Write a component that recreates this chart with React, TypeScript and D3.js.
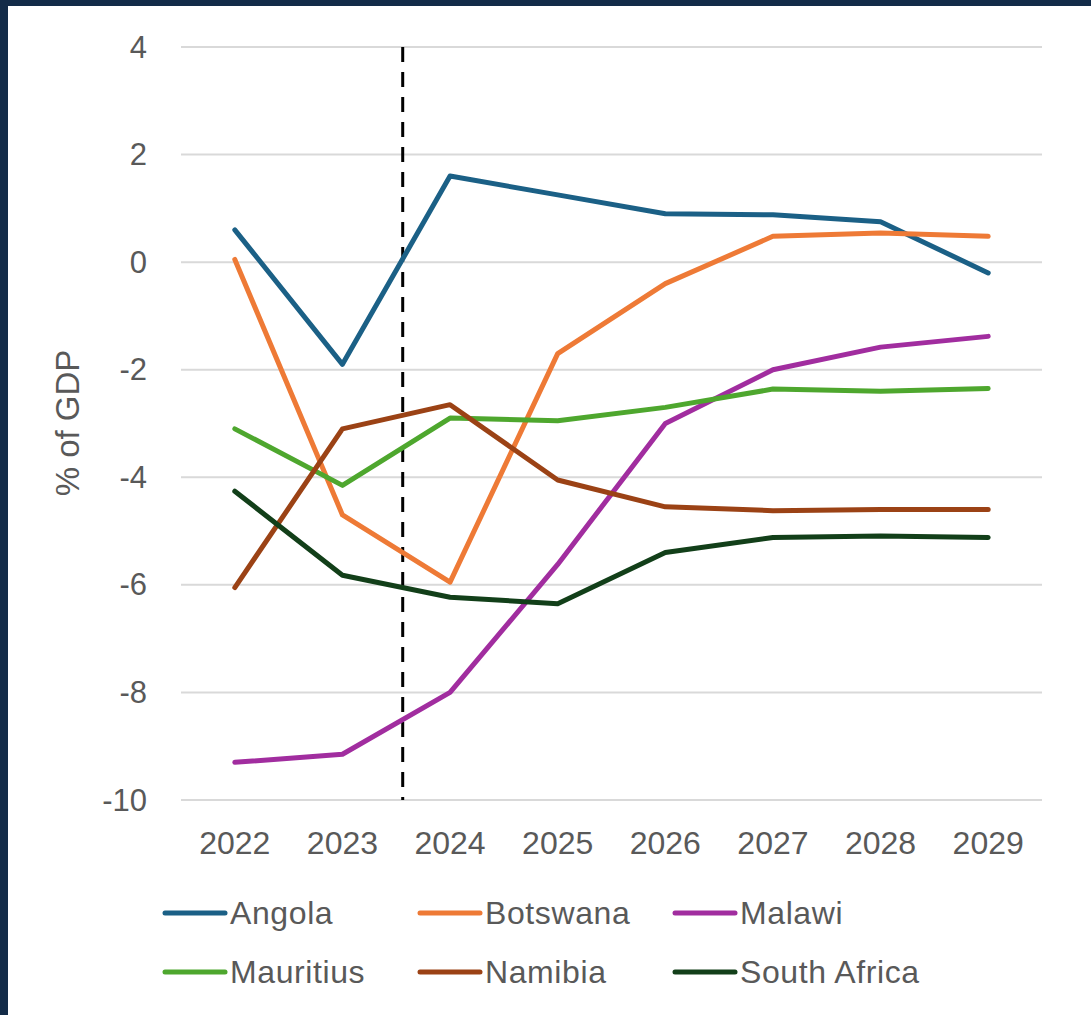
import React from "react";
import * as d3 from "d3";

const years = ["2022", "2023", "2024", "2025", "2026", "2027", "2028", "2029"];
const yTicks = [4, 2, 0, -2, -4, -6, -8, -10];

const angola = [0.6, -1.9, 1.6, 1.25, 0.9, 0.88, 0.75, -0.2];
const botswana = [0.05, -4.7, -5.95, -1.7, -0.4, 0.48, 0.54, 0.48];
const malawi = [-9.3, -9.15, -8.0, -5.62, -3.0, -2.0, -1.58, -1.38];
const mauritius = [-3.1, -4.15, -2.9, -2.95, -2.7, -2.36, -2.4, -2.35];
const namibia = [-6.05, -3.1, -2.65, -4.05, -4.55, -4.62, -4.6, -4.6];
const southAfrica = [-4.26, -5.82, -6.23, -6.35, -5.4, -5.12, -5.09, -5.12];

const seriesNames = ["Angola", "Botswana", "Malawi", "Mauritius", "Namibia", "South Africa"];
const seriesValues = [angola, botswana, malawi, mauritius, namibia, southAfrica];
const seriesColors = ["#1b6086", "#ee7a36", "#a12d9f", "#4ea72e", "#9b4215", "#123f19"];

// projection break between actuals and forecast (fraction of the way from 2023 to 2024)
const breakPos = 0.56;

const W = 1091;
const H = 1015;
const FONT = "'Liberation Sans', Arial, sans-serif";
const TEXT = "#595959";

export default function App() {
  const x = d3.scaleBand<string>().domain(years).range([181, 1042]);
  const y = d3.scaleLinear().domain([-10, 4]).range([800, 47]);
  const cx = (i: number) => (x(years[i]) as number) + x.bandwidth() / 2;

  const line = d3
    .line<number>()
    .x((_, i) => cx(i))
    .y((d) => y(d));

  const breakX = cx(1) + breakPos * x.step();

  const legendCols = [165, 420, 675];
  const legendRows = [913, 972];

  return (
    <svg
      width={W}
      height={H}
      style={{ position: "absolute", left: 0, top: 0, background: "#fff" }}
      fontFamily={FONT}
    >
      <rect x={0} y={0} width={W} height={H} fill="#ffffff" />
      <rect x={0} y={0} width={W} height={6} fill="#132b48" />
      <rect x={0} y={0} width={8} height={H} fill="#132b48" />

      {yTicks.map((t) => (
        <g key={t}>
          <line x1={181} x2={1042} y1={y(t)} y2={y(t)} stroke="#d9d9d9" strokeWidth={2} />
          <text
            x={147}
            y={y(t)}
            textAnchor="end"
            dominantBaseline="central"
            fontSize={31}
            fill={TEXT}
          >
            {t}
          </text>
        </g>
      ))}

      {years.map((yr, i) => (
        <text key={yr} x={cx(i)} y={843} textAnchor="middle" dominantBaseline="central" fontSize={32} fill={TEXT}>
          {yr}
        </text>
      ))}

      <text
        transform={`translate(67,423) rotate(-90)`}
        textAnchor="middle"
        dominantBaseline="central"
        fontSize={33}
        fill={TEXT}
      >
        % of GDP
      </text>

      <line
        x1={breakX}
        x2={breakX}
        y1={y(4)}
        y2={y(-10)}
        stroke="#000"
        strokeWidth={3}
        strokeDasharray="15,10"
      />

      {seriesValues.map((vals, k) => (
        <path
          key={seriesNames[k]}
          d={line(vals) as string}
          fill="none"
          stroke={seriesColors[k]}
          strokeWidth={5}
          strokeLinejoin="round"
          strokeLinecap="round"
        />
      ))}

      {seriesNames.map((name, k) => {
        const lx = legendCols[k % 3];
        const ly = legendRows[Math.floor(k / 3)];
        return (
          <g key={name}>
            <line x1={lx} x2={lx + 60} y1={ly} y2={ly} stroke={seriesColors[k]} strokeWidth={5} strokeLinecap="round" />
            <text x={lx + 65} y={ly} dominantBaseline="central" fontSize={32} fill={TEXT} letterSpacing={0.6}>
              {name}
            </text>
          </g>
        );
      })}
    </svg>
  );
}
